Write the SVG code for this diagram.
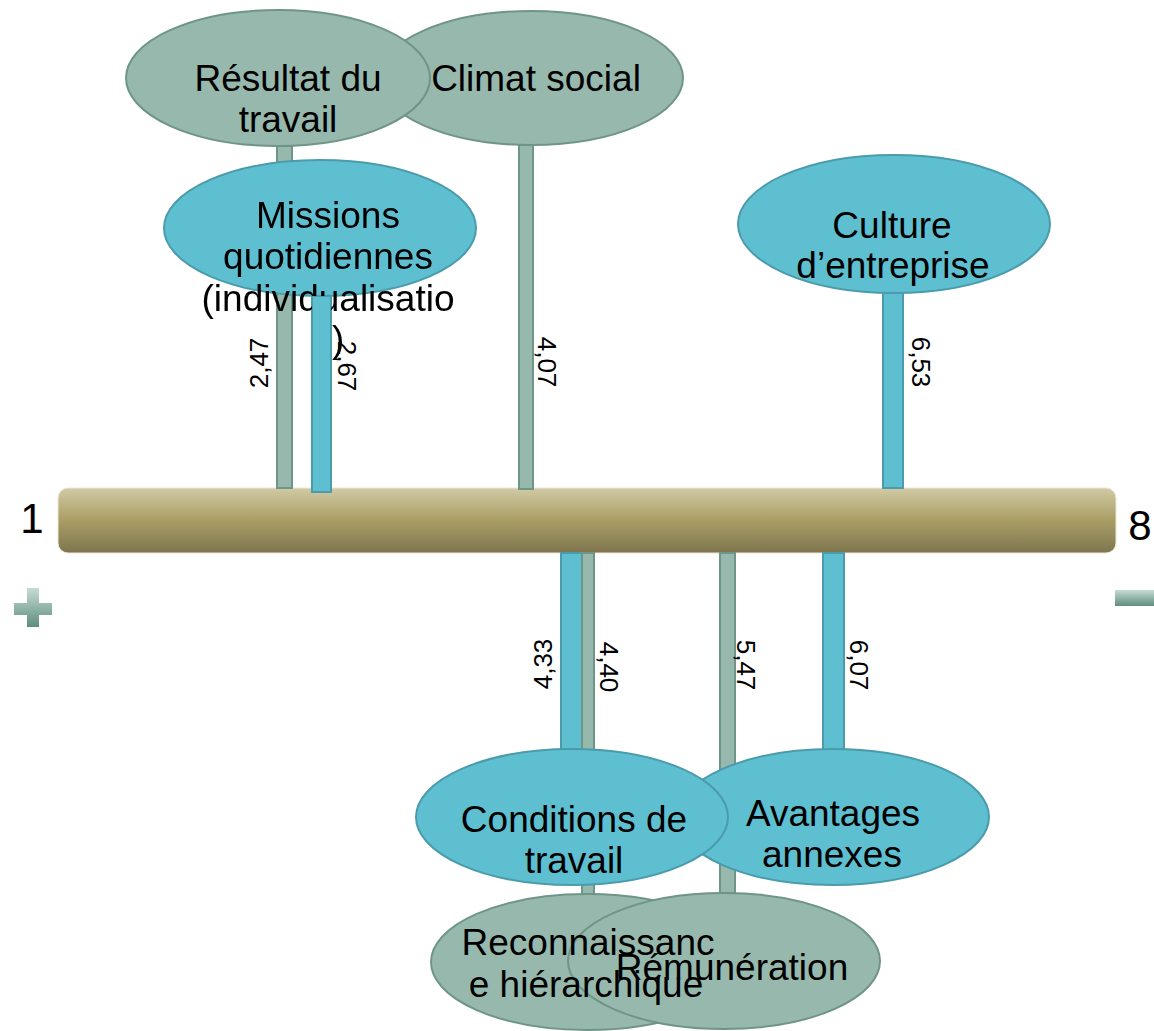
<svg xmlns="http://www.w3.org/2000/svg" width="1154" height="1031" viewBox="0 0 1154 1031">
  <defs>
    <linearGradient id="barGrad" x1="0" y1="0" x2="0" y2="1">
      <stop offset="0" stop-color="#d1caa4"/>
      <stop offset="0.5" stop-color="#a99d65"/>
      <stop offset="1" stop-color="#7e754e"/>
    </linearGradient>
    <linearGradient id="signGrad" x1="0" y1="0" x2="0" y2="1">
      <stop offset="0" stop-color="#c6dcd5"/>
      <stop offset="1" stop-color="#5e8d7e"/>
    </linearGradient>
    <!-- hides the part of the Missions label that sits under its own stem -->
    <mask id="missionsStem" maskUnits="userSpaceOnUse" x="0" y="0" width="1154" height="1031">
      <rect x="0" y="0" width="1154" height="1031" fill="#fff"/>
      <rect x="312" y="296" width="19" height="200" fill="#000"/>
    </mask>
  </defs>
  <style>
    .blue { fill: #5ebfd0; stroke: #4a9bab; stroke-width: 2; }
    .gray { fill: #97b9ad; stroke: #6f9488; stroke-width: 2; }
    .label { font-family: "Liberation Sans", Arial, sans-serif; font-size: 37px; fill: #000; text-anchor: middle; }
    .value { font-family: "Liberation Sans", Arial, sans-serif; font-size: 26px; fill: #000; text-anchor: middle; }
    .end { font-family: "Liberation Sans", Arial, sans-serif; font-size: 42px; fill: #000; text-anchor: middle; }
  </style>

  <!-- scale bar from 1 to 8 -->
  <g id="scale">
    <rect x="58" y="488" width="1058" height="65" rx="10" ry="10" fill="url(#barGrad)" stroke="#ebe7d6" stroke-width="1"/>
    <text class="end" x="32" y="533">1</text>
    <text class="end" x="1140" y="540">8</text>
    <path d="M27 588 H39 V603 H52 V615 H39 V627 H27 V615 H14 V603 H27 Z" fill="url(#signGrad)"/>
    <rect x="1115" y="590" width="39" height="16" fill="url(#signGrad)"/>
  </g>

  <!-- stems linking each factor to its score on the bar -->
  <g id="connectors">
    <rect class="gray" x="277" y="146" width="15" height="342"/>
    <rect class="gray" x="519" y="145" width="14" height="344"/>
    <rect class="blue" x="312" y="295" width="19" height="197"/>
    <rect class="blue" x="883" y="292" width="20" height="196"/>
    <rect class="blue" x="561" y="553" width="21" height="197"/>
    <rect class="gray" x="582" y="553" width="12" height="343"/>
    <rect class="gray" x="720" y="553" width="15" height="340"/>
    <rect class="blue" x="823" y="553" width="21" height="197"/>

    <text class="value" transform="translate(268,363) rotate(-90)">2,47</text>
    <text class="value" transform="translate(338,366) rotate(90)">2,67</text>
    <text class="value" transform="translate(538,362) rotate(90)">4,07</text>
    <text class="value" transform="translate(912,362) rotate(90)">6,53</text>
    <text class="value" transform="translate(552,664) rotate(-90)">4,33</text>
    <text class="value" transform="translate(600,667) rotate(90)">4,40</text>
    <text class="value" transform="translate(737,665) rotate(90)">5,47</text>
    <text class="value" transform="translate(850,665) rotate(90)">6,07</text>
  </g>

  <g id="climat-social">
    <ellipse class="gray" cx="531" cy="78" rx="152" ry="67"/>
    <text class="label" x="536" y="91">Climat social</text>
  </g>

  <g id="resultat-du-travail">
    <ellipse class="gray" cx="278" cy="78" rx="152" ry="68"/>
    <text class="label" x="288" y="91">Résultat du</text>
    <text class="label" x="288" y="132">travail</text>
  </g>

  <g id="missions-quotidiennes">
    <ellipse class="blue" cx="320" cy="228" rx="156" ry="68"/>
    <g mask="url(#missionsStem)">
      <text class="label" x="328" y="228">Missions</text>
      <text class="label" x="328" y="269">quotidiennes</text>
      <text class="label" x="328" y="311">(individualisatio</text>
      <text class="label" x="328" y="352">n)</text>
    </g>
  </g>

  <g id="culture-entreprise">
    <ellipse class="blue" cx="894" cy="224" rx="156" ry="69"/>
    <text class="label" x="892" y="238">Culture</text>
    <text class="label" x="893" y="278">d’entreprise</text>
  </g>

  <g id="avantages-annexes">
    <ellipse class="blue" cx="833" cy="817" rx="156" ry="68"/>
    <text class="label" x="833" y="826">Avantages</text>
    <text class="label" x="832" y="867">annexes</text>
  </g>

  <g id="conditions-de-travail">
    <ellipse class="blue" cx="572" cy="817" rx="156" ry="68"/>
    <text class="label" x="574" y="832">Conditions de</text>
    <text class="label" x="574" y="873">travail</text>
  </g>

  <g id="reconnaissance-hierarchique">
    <ellipse class="gray" cx="587" cy="962" rx="156" ry="68"/>
  </g>

  <g id="remuneration">
    <ellipse class="gray" cx="724" cy="961" rx="156" ry="68"/>
    <text class="label" x="732" y="980">Rémunération</text>
  </g>

  <g id="reconnaissance-hierarchique-label">
    <text class="label" x="588" y="955">Reconnaissanc</text>
    <text class="label" x="586" y="997">e hiérarchique</text>
  </g>
</svg>
